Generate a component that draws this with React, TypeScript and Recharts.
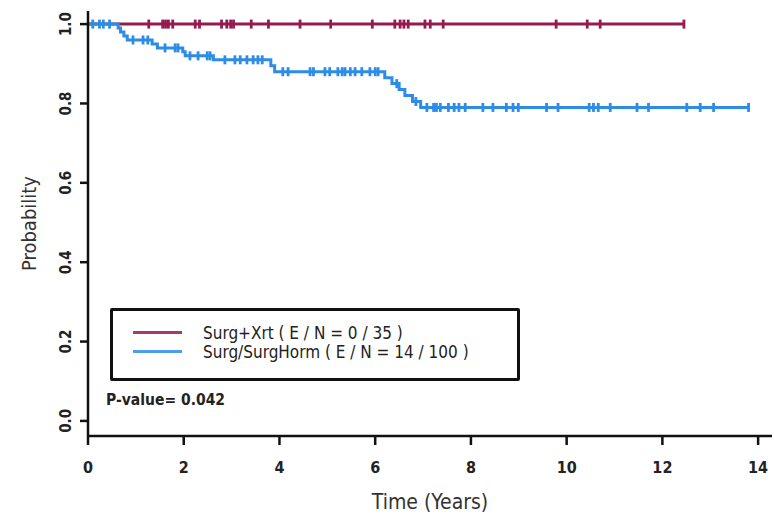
import React from "react";
import { ComposedChart, Line, XAxis, YAxis, Legend } from "recharts";

const xTicks = [0, 2, 4, 6, 8, 10, 12, 14];
const yTicks = [0, 0.2, 0.4, 0.6, 0.8, 1.0];

const seriesNames = ["Surg+Xrt ( E / N = 0 / 35 )", "Surg/SurgHorm ( E / N = 14 / 100 )"];
const seriesColors = ["#951B4E", "#2D8CE6"];

const redStepTimes = [0];
const redStepSurv = [1];
const redCensorTimes = [1.27, 1.56, 1.62, 1.68, 1.77, 2.24, 2.33, 2.79, 2.9, 2.98, 3.04, 3.41, 3.77, 4.43, 5.07, 5.94, 6.41, 6.52, 6.6, 6.69, 7.04, 7.15, 7.42, 9.78, 10.43, 10.7, 12.45];

const blueStepTimes = [0, 0.63, 0.68, 0.75, 0.82, 1.34, 1.45, 1.98, 2.03, 2.62, 3.82, 3.9, 6.2, 6.35, 6.5, 6.62, 6.78, 6.95];
const blueStepSurv = [1, 0.99, 0.98, 0.97, 0.96, 0.95, 0.94, 0.93, 0.92, 0.91, 0.895, 0.88, 0.865, 0.85, 0.835, 0.82, 0.805, 0.79];
const blueCensorTimes = [0.1, 0.24, 0.32, 0.45, 0.94, 1.15, 1.25, 1.61, 1.82, 1.88, 2.13, 2.3, 2.49, 2.55, 2.86, 3.07, 3.18, 3.32, 3.45, 3.55, 3.64, 4.07, 4.18, 4.64, 4.71, 4.95, 5.05, 5.22, 5.31, 5.37, 5.48, 5.58, 5.72, 5.89, 6.0, 6.06, 6.45, 6.85, 7.08, 7.22, 7.28, 7.36, 7.53, 7.65, 7.75, 7.88, 8.25, 8.46, 8.74, 8.88, 8.99, 9.58, 9.82, 10.47, 10.56, 10.66, 10.91, 11.47, 11.71, 12.51, 12.79, 13.07, 13.8];

const pValueText = "P-value= 0.042";

function buildSeries(stepT: number[], stepS: number[], censT: number[]) {
  const survAt = (t: number) => {
    let s = stepS[0];
    for (let i = 0; i < stepT.length; i++) if (stepT[i] <= t) s = stepS[i];
    return s;
  };
  const pts = [
    ...stepT.map((t, i) => ({ t, s: stepS[i], c: false })),
    ...censT.map((t) => ({ t, s: survAt(t), c: true })),
  ];
  pts.sort((a, b) => a.t - b.t);
  return pts;
}

const redData = buildSeries(redStepTimes, redStepSurv, redCensorTimes);
const blueData = buildSeries(blueStepTimes, blueStepSurv, blueCensorTimes);

const FONT = "'DejaVu Sans Condensed', 'Liberation Sans Narrow', 'Liberation Sans', Arial, sans-serif";

const censorDot = (color: string) => (props: any) => {
  const { cx, cy, payload, index } = props;
  if (!payload || !payload.c) return <g key={`d${index}`} />;
  return (
    <line key={`d${index}`} x1={cx} x2={cx} y1={cy - 4.5} y2={cy + 4.5} stroke={color} strokeWidth={2.8} />
  );
};

const YTick = (props: any) => {
  const { x, y, payload } = props;
  const cx = x - 14;
  return (
    <text x={cx} y={y} transform={`rotate(-90 ${cx} ${y})`} textAnchor="middle" dominantBaseline="central"
      fontFamily={FONT} fontSize={15} fontWeight="bold" fill="#222">
      {Number(payload.value).toFixed(1)}
    </text>
  );
};

const XTick = (props: any) => {
  const { x, y, payload } = props;
  return (
    <text x={x} y={y} textAnchor="middle" dominantBaseline="central"
      fontFamily={FONT} fontSize={16} fontWeight="bold" fill="#222">
      {payload.value}
    </text>
  );
};

const LegendBox = () => (
  <div style={{ fontFamily: FONT, color: "#222" }}>
    <div style={{ marginLeft: 4, width: 404, height: 67, border: "3px solid #111", borderRadius: 2, position: "relative", background: "#fff" }}>
      {seriesNames.map((n, i) => (
        <div key={n} style={{ position: "absolute", left: 20, top: 12 + i * 19, height: 19, display: "flex", alignItems: "center" }}>
          <div style={{ width: 49, height: 2.5, background: seriesColors[i], opacity: 0.85 }} />
          <div style={{ marginLeft: 21, fontSize: 17, whiteSpace: "pre" }}>{n}</div>
        </div>
      ))}
    </div>
    <div style={{ marginTop: 10, fontSize: 15.5, fontWeight: "bold", whiteSpace: "pre" }}>{pValueText}</div>
  </div>
);

export default function App() {
  return (
    <div style={{ position: "absolute", left: 0, top: 0, width: 774, height: 515, background: "#fff" }}>
      <ComposedChart width={774} height={515} margin={{ top: 11, right: 2, bottom: 0, left: 0 }}>
        <XAxis xAxisId="b" dataKey="t" type="number" domain={[0, 14.29]} ticks={xTicks} allowDataOverflow
          height={79} tickSize={9} tickMargin={22} tick={<XTick />}
          axisLine={{ stroke: "#111", strokeWidth: 2.5 }} tickLine={{ stroke: "#111", strokeWidth: 2.5 }}
          label={{ value: "Time (Years)", position: "insideBottom", offset: 6, style: { fontFamily: FONT, fontSize: 21, fill: "#333" } }} />
        <XAxis xAxisId="top" orientation="top" dataKey="t" type="number" domain={[0, 14.29]} height={0}
          tick={false} tickLine={false} axisLine={{ stroke: "#111", strokeWidth: 2.5 }} />
        <YAxis yAxisId="l" type="number" domain={[-0.038, 1.033]} ticks={yTicks} allowDataOverflow width={88}
          tickSize={8} tickMargin={0} tick={<YTick />}
          axisLine={{ stroke: "#111", strokeWidth: 2.5 }} tickLine={{ stroke: "#111", strokeWidth: 2.5 }}
          label={{
            content: (p: any) => {
              const vb = p.viewBox || { x: 0, y: 11, height: 425 };
              const cx = vb.x + 29;
              const cy = vb.y + vb.height / 2;
              return (
                <text x={cx} y={cy} transform={`rotate(-90 ${cx} ${cy})`} textAnchor="middle" dominantBaseline="central"
                  fontFamily={FONT} fontSize={20} fill="#333">Probability</text>
              );
            },
          }} />
        <YAxis yAxisId="r" orientation="right" type="number" domain={[-0.038, 1.033]} width={0}
          tick={false} tickLine={false} axisLine={{ stroke: "#111", strokeWidth: 2.5 }} />
        <Legend layout="vertical" align="center" verticalAlign="middle" content={<LegendBox />}
          wrapperStyle={{ position: "absolute", left: 106, top: 308, width: 420, height: 110 }} />
        <Line xAxisId="b" yAxisId="l" data={redData} dataKey="s" name={seriesNames[0]} type="stepAfter"
          stroke={seriesColors[0]} strokeWidth={3} dot={censorDot(seriesColors[0])} activeDot={false} isAnimationActive={false} />
        <Line xAxisId="b" yAxisId="l" data={blueData} dataKey="s" name={seriesNames[1]} type="stepAfter"
          stroke={seriesColors[1]} strokeWidth={3} dot={censorDot(seriesColors[1])} activeDot={false} isAnimationActive={false} />
      </ComposedChart>
    </div>
  );
}
